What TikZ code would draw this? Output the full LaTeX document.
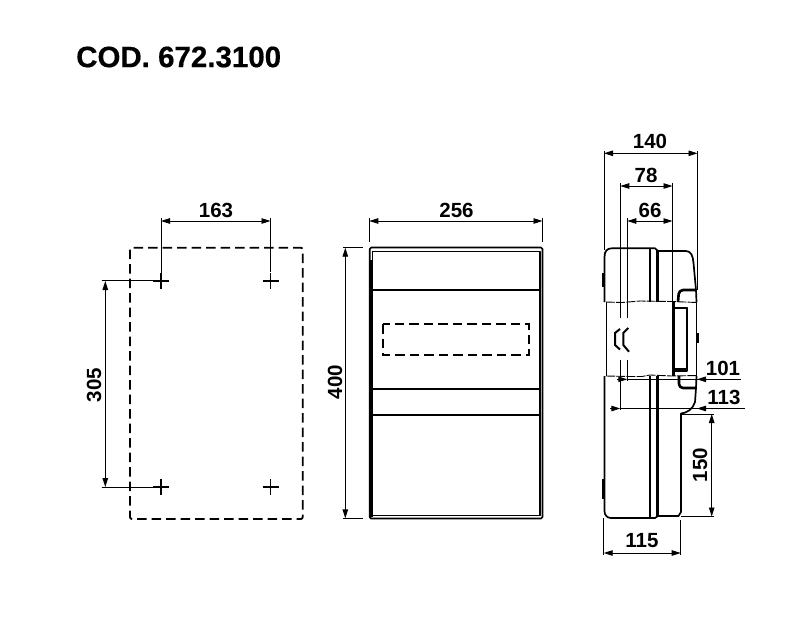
\documentclass[tikz,border=0pt]{standalone}
\usepackage{fontspec}
\setmainfont{Liberation Sans}
\newfontfamily\codfont[FakeBold=0.5]{Liberation Sans Bold}
\usetikzlibrary{arrows.meta,calc,positioning}
\tikzset{
	box line/.style={line width=1.7pt,line join=round},
	heavy line/.style={line width=2.6pt,line join=round},
	thin line/.style={line width=.9pt},
	ext/.style={line width=.9pt},
	dim/.style={line width=.9pt,{Triangle[length=9pt,width=5.5pt]}-{Triangle[length=9pt,width=5.5pt]}},
	dim end/.style={line width=.9pt,-{Triangle[length=9pt,width=5.5pt]}},
	cut/.style={line width=.9pt,dash pattern=on 9pt off 1.2pt},
	hidden/.style={line width=1.8pt,dash pattern=on 9.5pt off 5pt},
	val/.style={font=\fontsize{20.5}{20.5}\selectfont\bfseries,inner sep=0pt},
	title/.style={font=\fontsize{29.5}{29.5}\codfont,inner sep=0pt,anchor=west}
}
\begin{document}
\begin{tikzpicture}[x=1pt,y=-1pt]
	\useasboundingbox[fill=white] (0,0) rectangle (810,627);
	\node[title] (cod) at (76,57) {COD. 672.3100};

	% drilling plan
	\draw[hidden,rounded corners=2pt] (130,247.7) rectangle (302.7,519);
	\foreach \n/\x/\y in {tl/161/281, tr/270.5/281, bl/161/487, br/270.5/487} {
		\coordinate (hole\n) at (\x,\y);
		\draw[line width=1.1pt] (\x-8,\y) -- (\x+8,\y) (\x,\y-8) -- (\x,\y+8);
	}
	\coordinate (w1) at (161,221);
	\coordinate (w2) at (270.5,221);
	\coordinate (h1) at (105.3,281);
	\coordinate (h2) at (105.3,487);
	\draw[ext] (161,218) -- (161,275) (270.5,218) -- (270.5,272);
	\draw[ext] (101.7,280.5) -- (155,280.5) (101.7,487) -- (155,487);
	\draw[dim] (w1) -- (w2);
	\draw[dim] (h1) -- (h2);
	\node[val] (lab163) at (216,210) {163};
	\node[val,rotate=90] (lab305) at (94,385) {305};

	% front view
	\draw[box line,rounded corners=1.5pt] (369.7,247.5) rectangle (542.5,518.5);
	\draw[box line] (372.5,251.5) rectangle (540,515.5);
	\draw[heavy line] (371.2,260) -- (371.2,517);
	\foreach \y in {290,388.7,415} \draw[box line] (372.5,\y) -- (540,\y);
	\draw[hidden] (382.7,324) rectangle (529.3,355);
	\coordinate (fw1) at (369.3,221);
	\coordinate (fw2) at (542.5,221);
	\coordinate (fh1) at (345.3,247.7);
	\coordinate (fh2) at (345.3,518.3);
	\draw[ext] (369.3,218) -- (369.3,242) (542.5,218) -- (542.5,242);
	\draw[ext] (343,247.7) -- (363,247.7) (343,518.3) -- (363,518.3);
	\draw[dim] (fw1) -- (fw2);
	\draw[dim] (fh1) -- (fh2);
	\node[val] (lab256) at (456.5,210) {256};
	\node[val,rotate=90] (lab400) at (335,382) {400};

	% side view, upper part
	\draw[box line] (604.5,302) -- (604.5,257) .. controls (604.5,251) and (607,248.3) .. (612,248.3)
		-- (655,248.3) -- (658,251) -- (686,251) .. controls (691,251) and (693,256) .. (693.5,263) -- (696,290) -- (696.5,302);
	\draw[heavy line] (650,248.5) -- (650,302) (657.5,250) -- (657.5,302);
	\draw[heavy line] (603.5,273) -- (603.5,287);
	\draw[heavy line,rounded corners=4pt] (696,290) -- (679,290) -- (678,302);
	% side view, cut part
	\draw[cut] (606,302) -- (622,302.5) -- (640,301) -- (672,301.5) -- (697,302.5);
	\draw[cut] (606,376) -- (630,376.5) -- (642,376.5) -- (650,375) -- (672,376) -- (697,375.5);
	\draw[thin line] (606.5,302) -- (606.5,376) (696.5,302) -- (696.5,376);
	\draw[heavy line] (697.3,333) -- (697.3,343);
	\draw[heavy line] (673.5,302) -- (673.5,376);
	\draw[box line] (674,307.5) rectangle (686.7,371);
	\draw[heavy line] (674,308) -- (686.7,308) (674,369) -- (686.7,369);
	\draw[line width=2pt] (620,329) -- (615,333) -- (615,345) -- (620,349.5);
	\draw[line width=2pt] (628.3,328) -- (623.3,333) -- (623.3,345) -- (629,351.7);
	% side view, lower part
	\draw[heavy line,rounded corners=4pt] (679,376) -- (679,388) -- (696,388);
	\draw[box line] (696.5,376) -- (696,388) -- (695,402) .. controls (693,409) and (687,413) .. (681,413.5)
		-- (681,512) -- (678.5,516) -- (658,516);
	\draw[box line] (604.5,376) -- (604.5,511) .. controls (604.5,515) and (607,518) .. (611,518) -- (655,518) -- (658,516);
	\draw[heavy line] (650,376) -- (650,518) (657.5,376) -- (657.5,517);
	\draw[heavy line] (603.5,479) -- (603.5,499);

	% side view, dimensions
	\coordinate (sa1) at (604,153.3);
	\coordinate (sa2) at (697.5,153.3);
	\coordinate (sb1) at (620.3,186);
	\coordinate (sb2) at (672.5,186);
	\coordinate (sc1) at (627.3,221);
	\coordinate (sc2) at (672.5,221);
	\coordinate (sd1) at (603.7,553);
	\coordinate (sd2) at (680.7,553);
	\coordinate (se1) at (711.7,414);
	\coordinate (se2) at (711.7,516.5);
	\draw[ext] (604,151) -- (604,250) (697.5,151) -- (697.5,290);
	\draw[ext] (620.3,183) -- (620.3,318) (620.3,360) -- (620.3,410);
	\draw[ext] (627.3,218) -- (627.3,318) (627.3,360) -- (627.3,381);
	\draw[ext] (672.5,183) -- (672.5,302);
	\draw[ext] (603.7,518) -- (603.7,555) (680.7,520) -- (680.7,555);
	\draw[ext] (681,414) -- (714,414) (681,516.5) -- (714,516.5);
	\draw[dim] (sa1) -- (sa2);
	\draw[dim] (sb1) -- (sb2);
	\draw[dim] (sc1) -- (sc2);
	\draw[dim] (sd1) -- (sd2);
	\draw[dim] (se1) -- (se2);
	\coordinate (ra1) at (617,379.3);
	\coordinate (ra2) at (627.3,379.3);
	\coordinate (ra3) at (741,379.3);
	\coordinate (ra4) at (697,379.3);
	\coordinate (rb1) at (610,408.5);
	\coordinate (rb2) at (620.3,408.5);
	\coordinate (rb3) at (745,408.5);
	\coordinate (rb4) at (697,408.5);
	\draw[dim end] (ra1) -- (ra2);
	\draw[thin line] (ra2) -- (ra3);
	\draw[dim end] (ra3) -- (ra4);
	\draw[dim end] (rb1) -- (rb2);
	\draw[thin line] (rb2) -- (rb3);
	\draw[dim end] (rb3) -- (rb4);
	\node[val] (lab140) at (650,141.7) {140};
	\node[val] (lab78) at (646,175) {78};
	\node[val] (lab66) at (650,210) {66};
	\node[val] (lab101) at (723,368) {101};
	\node[val] (lab113) at (724,397) {113};
	\node[val,rotate=90] (lab150) at (700,465) {150};
	\node[val] (lab115) at (642,541) {115};
\end{tikzpicture}
\end{document}
